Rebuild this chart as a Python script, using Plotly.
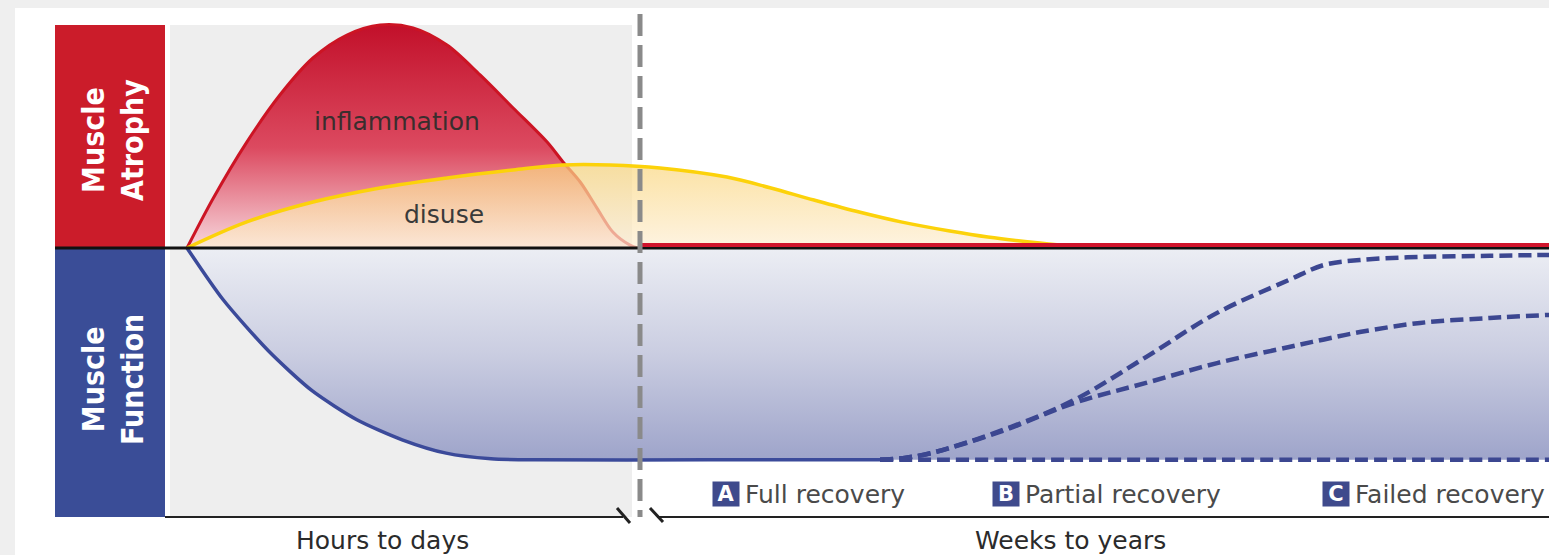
import plotly.graph_objects as go

# ---------------- data (conceptual time course) ----------------
# time axis: 0..10 = "hours to days", 10..30 = "weeks to years"
inflam_t = [0, 0.57, 1.32, 2.05, 2.78, 3.53, 4.26, 4.99, 5.74, 6.47, 7.20, 7.95, 8.30, 8.68, 9.05, 9.40, 9.78, 9.95]
inflam_y = [0, 22, 47.5, 68.6, 85.2, 95.5, 100, 98.7, 91.0, 77.6, 62.8, 47.5, 38.6, 29.6, 17.9, 7.2, 1.3, 0]

disuse_t = [0, 1.32, 2.78, 4.26, 5.74, 7.20, 8.30, 9.34, 10.44, 11.92, 12.87, 13.84, 14.86, 15.76, 16.84, 17.68, 18.83, 19.85]
disuse_y = [0, 11.7, 20.6, 26.9, 31.4, 35.0, 37.2, 37.2, 35.9, 31.8, 27, 21.5, 16, 11.7, 7.6, 4.9, 2.2, 0.3]

function_t = [0, 0.79, 1.79, 2.76, 3.75, 4.75, 5.72, 6.71, 7.7, 11.5, 15.3]
function_y = [0, -23, -46, -64, -77, -86, -92, -94.5, -95, -95, -95]

recovery_t = [15.30, 15.87, 16.42, 18.01, 19.58, 21.17, 22.74, 24.33, 25.10, 25.89, 27.22, 28.76, 30.07]
full_y = [-95, -94, -92, -81.6, -68.2, -48.9, -29.1, -14.3, -7.6, -5.4, -4.0, -3.5, -3.1]
partial_y = [-95, -94, -92, -82, -69.5, -60.5, -51.6, -44.4, -41, -37.7, -33.6, -31.4, -30]
failed_y = [-95, -95, -95, -95, -95, -95, -95, -95, -95, -95, -95, -95, -95]

legend_letters = ["A", "B", "C"]
legend_labels = ["Full recovery", "Partial recovery", "Failed recovery"]
phase_labels = ["Hours to days", "Weeks to years"]
panel_labels = ["Muscle<br>Atrophy", "Muscle<br>Function"]
curve_labels = ["inflammation", "disuse"]

# ---------------- helpers for decorative placement ----------------
W, H = 1549, 555
X0PX, XSCALE = 187, 45.3
Y0PX, YSCALE = 248, 2.23


def X(px):
    return (px - X0PX) / XSCALE


def Y(py):
    return (Y0PX - py) / YSCALE


fig = go.Figure()

# inflammation
fig.add_trace(go.Scatter(
    x=inflam_t, y=inflam_y, mode="lines", line=dict(color="#cc1424", width=3, shape="spline", smoothing=0.9),
    fill="tozeroy",
    fillgradient=dict(type="vertical", start=0, stop=100,
                      colorscale=[[0, "#f7d6dc"], [0.45, "#dc4a60"], [1, "#c2102a"]]),
    hoverinfo="skip", showlegend=False))

# disuse
fig.add_trace(go.Scatter(
    x=disuse_t, y=disuse_y, mode="lines", line=dict(color="rgba(0,0,0,0)", width=0, shape="spline"),
    fill="tozeroy",
    fillgradient=dict(type="vertical", start=0, stop=38,
                      colorscale=[[0, "rgba(253,238,212,0.7)"], [1, "rgba(250,214,125,0.7)"]]),
    hoverinfo="skip", showlegend=False))
fig.add_trace(go.Scatter(
    x=disuse_t, y=disuse_y, mode="lines", line=dict(color="#fcd20a", width=3.5, shape="spline"),
    hoverinfo="skip", showlegend=False))

# muscle function fill
fig.add_trace(go.Scatter(
    x=function_t + recovery_t[1:], y=function_y + failed_y[1:], mode="lines",
    line=dict(color="rgba(0,0,0,0)", width=0, shape="spline", smoothing=0.7),
    fill="tozeroy",
    fillgradient=dict(type="vertical", start=0, stop=-95,
                      colorscale=[[0, "#eceef4"], [0.5, "#cacde1"], [1, "#9ea4ca"]]),
    hoverinfo="skip", showlegend=False))

# recovery scenarios (dashed)
for ys in (failed_y, partial_y, full_y):
    fig.add_trace(go.Scatter(
        x=recovery_t, y=ys, mode="lines",
        line=dict(color="#3c4791", width=4.5, dash="13px,6px", shape="spline", smoothing=1),
        hoverinfo="skip", showlegend=False))

# muscle function solid line
fig.add_trace(go.Scatter(
    x=function_t, y=function_y, mode="lines",
    line=dict(color="#3b4a9a", width=3.5, shape="spline", smoothing=0.7),
    hoverinfo="skip", showlegend=False))

shapes = [
    dict(type="rect", x0=X(15), x1=X(W + 5), y0=Y(H + 5), y1=Y(8), fillcolor="white", line_width=0, layer="below"),
    dict(type="rect", x0=X(170), x1=X(632), y0=Y(517), y1=Y(25), fillcolor="#eeeeee", line_width=0, layer="below"),
    dict(type="rect", x0=X(55), x1=X(165), y0=Y(248), y1=Y(25), fillcolor="#cb1c2a", line_width=0, layer="below"),
    dict(type="rect", x0=X(55), x1=X(165), y0=Y(517), y1=Y(249), fillcolor="#3a4d97", line_width=0, layer="below"),
    dict(type="line", x0=X(55), x1=X(W), y0=Y(248), y1=Y(248), line=dict(color="#111", width=3), layer="above"),
    dict(type="line", x0=X(640), x1=X(W), y0=Y(245), y1=Y(245), line=dict(color="#d0142c", width=4), layer="above"),
    dict(type="line", x0=X(640), x1=X(640), y0=Y(14), y1=Y(517), line=dict(color="#8a8a8a", width=5, dash="22px,9px"), layer="above"),
    dict(type="line", x0=X(165), x1=X(623), y0=Y(517), y1=Y(517), line=dict(color="#222", width=2), layer="above"),
    dict(type="line", x0=X(657), x1=X(W), y0=Y(517), y1=Y(517), line=dict(color="#222", width=2), layer="above"),
    dict(type="line", x0=X(617), x1=X(630), y0=Y(508), y1=Y(523), line=dict(color="#222", width=3), layer="above"),
    dict(type="line", x0=X(650), x1=X(663), y0=Y(508), y1=Y(522), line=dict(color="#222", width=3), layer="above"),
]

annotations = []
cond = "DejaVu Sans Condensed, Liberation Sans Narrow, sans-serif"
txt = "DejaVu Sans, sans-serif"
annotations.append(dict(x=X(113), y=Y(140), text="<b>" + panel_labels[0] + "</b>", textangle=-90, showarrow=False,
                        font=dict(family=cond, size=30, color="white")))
annotations.append(dict(x=X(113), y=Y(380), text="<b>" + panel_labels[1] + "</b>", textangle=-90, showarrow=False,
                        font=dict(family=cond, size=30, color="white")))
annotations.append(dict(x=X(397), y=Y(121), text=curve_labels[0], showarrow=False,
                        font=dict(family=txt, size=25, color="#3a2e2e")))
annotations.append(dict(x=X(444), y=Y(214), text=curve_labels[1], showarrow=False,
                        font=dict(family=txt, size=25, color="#3a3a3a")))
annotations.append(dict(x=X(382), y=Y(540), text=phase_labels[0], showarrow=False,
                        font=dict(family=txt, size=25, color="#2b2b2b")))
annotations.append(dict(x=X(1070), y=Y(540), text=phase_labels[1], showarrow=False,
                        font=dict(family=txt, size=25, color="#2b2b2b")))

box_px = [726, 1006, 1336]
for bx, letter, label in zip(box_px, legend_letters, legend_labels):
    annotations.append(dict(x=X(bx), y=Y(494), text="<b>" + letter + "</b>", showarrow=False,
                            bgcolor="#3f4a8c", width=26, height=24, borderpad=0,
                            font=dict(family=txt, size=21, color="white")))
    annotations.append(dict(x=X(bx + 17), y=Y(494), text=label, showarrow=False, xanchor="left",
                            font=dict(family=txt, size=25, color="#4a4a4a")))

fig.update_layout(
    width=W, height=H, autosize=False,
    margin=dict(l=0, r=0, t=0, b=0, pad=0),
    paper_bgcolor="#efefef", plot_bgcolor="rgba(0,0,0,0)",
    xaxis=dict(range=[X(0), X(W)], visible=False, fixedrange=True),
    yaxis=dict(range=[Y(H), Y(0)], visible=False, fixedrange=True),
    shapes=shapes, annotations=annotations, showlegend=False,
)

fig.write_html(
    "out.html",
    config={"displayModeBar": False},
    post_script="document.body.style.margin='0';document.body.style.padding='0';document.body.style.overflow='hidden';",
)
